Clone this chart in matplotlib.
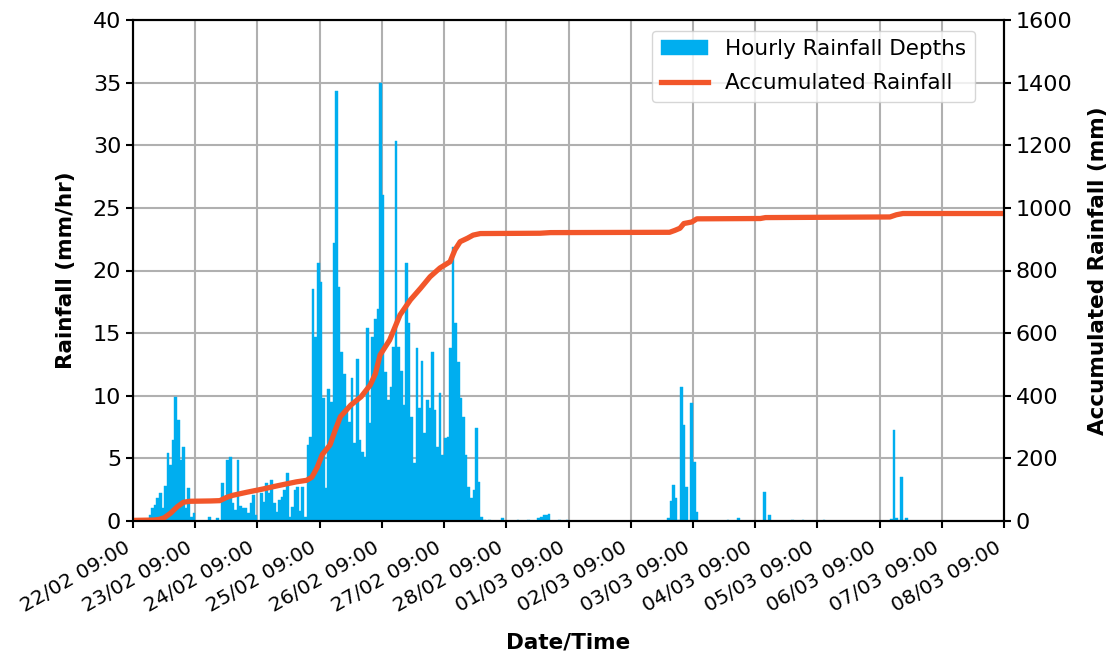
import matplotlib
matplotlib.use("Agg")
import matplotlib.pyplot as plt
import matplotlib.dates as mdates
import pandas as pd
import numpy as np

# ---------------- data ----------------
period_start = "2019-02-22 09:00"
period_end = "2019-03-08 09:00"

# hourly rainfall depths (mm/hr), grouped by event; each list starts at the given hour offset
event1_start_hour = 6
event1_mm = [0.5, 1.0, 1.3, 1.8, 2.2, 1.0, 2.8, 5.4, 4.5, 6.5, 9.9, 8.1, 4.9, 5.9, 1.0, 2.6, 0.3, 0.6]

event2_start_hour = 29
event2_mm = [0.35, 0, 0, 0.2, 0, 3.0, 1.7, 4.9, 5.1, 1.4, 0.9, 4.9, 1.2, 1.0, 1.0, 0.6, 1.4, 2.1, 0.5, 0,
             2.2, 1.5, 3.0, 2.2, 3.3, 1.4, 0.75, 1.7, 1.9, 2.5, 3.8, 0.3, 1.1,
             2.5, 2.7, 0.8, 2.7, 0.3, 6.1, 6.7, 18.5, 14.7, 20.6, 19.1, 9.8, 2.6, 10.5, 9.5, 22.2, 34.3,
             18.7, 13.5, 11.7, 9.1, 7.9, 11.4, 6.2, 12.9, 6.5, 5.5, 5.1, 15.4, 7.8, 14.7, 16.1, 16.9,
             35.0, 26.0, 11.9, 9.7, 10.7, 13.9, 30.3, 13.9, 12.0, 9.3, 20.6, 15.8, 8.3, 4.6, 13.8, 9.0,
             12.8, 7.0, 9.7, 9.0, 13.5, 8.9, 5.9, 10.2, 5.3, 6.6, 6.7, 13.8, 21.9, 15.8, 12.7, 9.8, 8.3,
             5.3, 2.7, 1.8, 2.5, 7.4, 3.1, 0.35, 0.1]

drizzle_hours = [137, 142, 148, 152, 156, 157, 158, 159, 160, 164, 167, 229, 233, 254, 258, 266]
drizzle_mm = [0.1, 0.2, 0.1, 0.1, 0.27, 0.3, 0.5, 0.5, 0.55, 0.1, 0.1, 0.1, 0.27, 0.1, 0.1, 0.1]

event3_start_hour = 206
event3_mm = [0.2, 1.6, 2.9, 1.8, 0.1, 10.7, 7.7, 2.7, 0, 9.4, 4.7, 0.7]

event4_start_hour = 243
event4_mm = [2.3, 0, 0.5]

event5_start_hour = 292
event5_mm = [0.13, 7.3, 0.2, 0, 3.5, 0, 0.2]

# accumulated rainfall (mm) read at hour offsets
acc_hours = [0, 8, 10, 12, 14.5, 17, 19.5, 22, 30, 33.5, 36, 38.5, 44, 50, 56, 63, 67, 69, 71, 73,
             76, 78, 80, 84, 88, 91.5, 93.5, 95.3, 99, 103, 107, 111, 114.6, 118.4, 122.3, 124.2,
             126.2, 129, 131.2, 134, 157, 161, 207, 209, 211, 212.5, 215.6, 217.5, 242, 244, 292,
             294.5, 297, 336]
acc_mm = [2, 3, 5, 10, 25, 45, 60, 63, 64, 65, 75, 82, 92, 102, 113, 125, 130, 140, 170, 212,
          243, 290, 333, 370, 397, 434, 470, 530, 578, 658, 706, 744, 780, 808, 828, 866,
          892, 903, 913, 918, 919, 921, 922, 928, 935, 950, 955, 965, 966, 969, 971,
          978, 982, 982]

# ---------------- build ----------------
t0 = pd.Timestamp(period_start)
t1 = pd.Timestamp(period_end)

bar_hours = []
bar_vals = []
for start, vals in [(event1_start_hour, event1_mm), (event2_start_hour, event2_mm),
                    (event3_start_hour, event3_mm), (event4_start_hour, event4_mm),
                    (event5_start_hour, event5_mm)]:
    for i, v in enumerate(vals):
        bar_hours.append(start + i)
        bar_vals.append(v)
bar_hours += drizzle_hours
bar_vals += drizzle_mm

bar_times = [t0 + pd.Timedelta(hours=h) for h in bar_hours]
acc_times = [t0 + pd.Timedelta(hours=h) for h in acc_hours]

BAR_COLOR = "#00aeef"
LINE_COLOR = "#f2562a"
FS = 15.5

plt.rcParams["font.family"] = ["DejaVu Sans"]
fig = plt.figure(figsize=(11.1, 6.52), dpi=100)
ax = fig.add_axes([133 / 1110, 1 - 521 / 652, (1004 - 133) / 1110, (521 - 20) / 652])

ax.bar(bar_times, bar_vals, width=1 / 24, align="edge", color=BAR_COLOR,
       edgecolor=BAR_COLOR, linewidth=0.3, label="Hourly Rainfall Depths")
ax.set_axisbelow(True)
ax.grid(True, color="#b0b0b0", linewidth=1.5)
ax.set_ylim(0, 40)
ax.set_yticks(np.arange(0, 41, 5))
ax.set_xlim(t0, t1)
ax.set_xticks(pd.date_range(t0, t1, freq="D"))
ax.xaxis.set_major_formatter(mdates.DateFormatter("%d/%m %H:%M"))
ax.tick_params(axis="x", labelsize=14.5, length=5, width=1.5, pad=7)
ax.tick_params(axis="y", labelsize=16, length=5, width=1.5)
for lbl in ax.get_xticklabels():
    lbl.set_rotation(30)
    lbl.set_ha("right")
ax.set_ylabel("Rainfall (mm/hr)", fontsize=FS, fontweight="bold", labelpad=12)
ax.set_xlabel("Date/Time", fontsize=FS, fontweight="bold", labelpad=12)

ax2 = ax.twinx()
ax2.plot(acc_times, acc_mm, color=LINE_COLOR, linewidth=3.8, label="Accumulated Rainfall")
ax2.set_ylim(0, 1600)
ax2.set_yticks(np.arange(0, 1601, 200))
ax2.tick_params(labelsize=16, length=5, width=1.5)
ax2.set_ylabel("Accumulated Rainfall (mm)", fontsize=FS, fontweight="bold", labelpad=11)
ax2.set_xlim(t0, t1)

for a in (ax, ax2):
    for s in a.spines.values():
        s.set_linewidth(1.5)
        s.set_color("black")

h1, l1 = ax.get_legend_handles_labels()
h2, l2 = ax2.get_legend_handles_labels()
ax2.legend(h1 + h2, l1 + l2, loc="upper right", bbox_to_anchor=(0.979, 1.0),
           handlelength=2.2, labelspacing=0.65, fontsize=FS, framealpha=0.8)

fig.savefig("out.png", dpi=100)
